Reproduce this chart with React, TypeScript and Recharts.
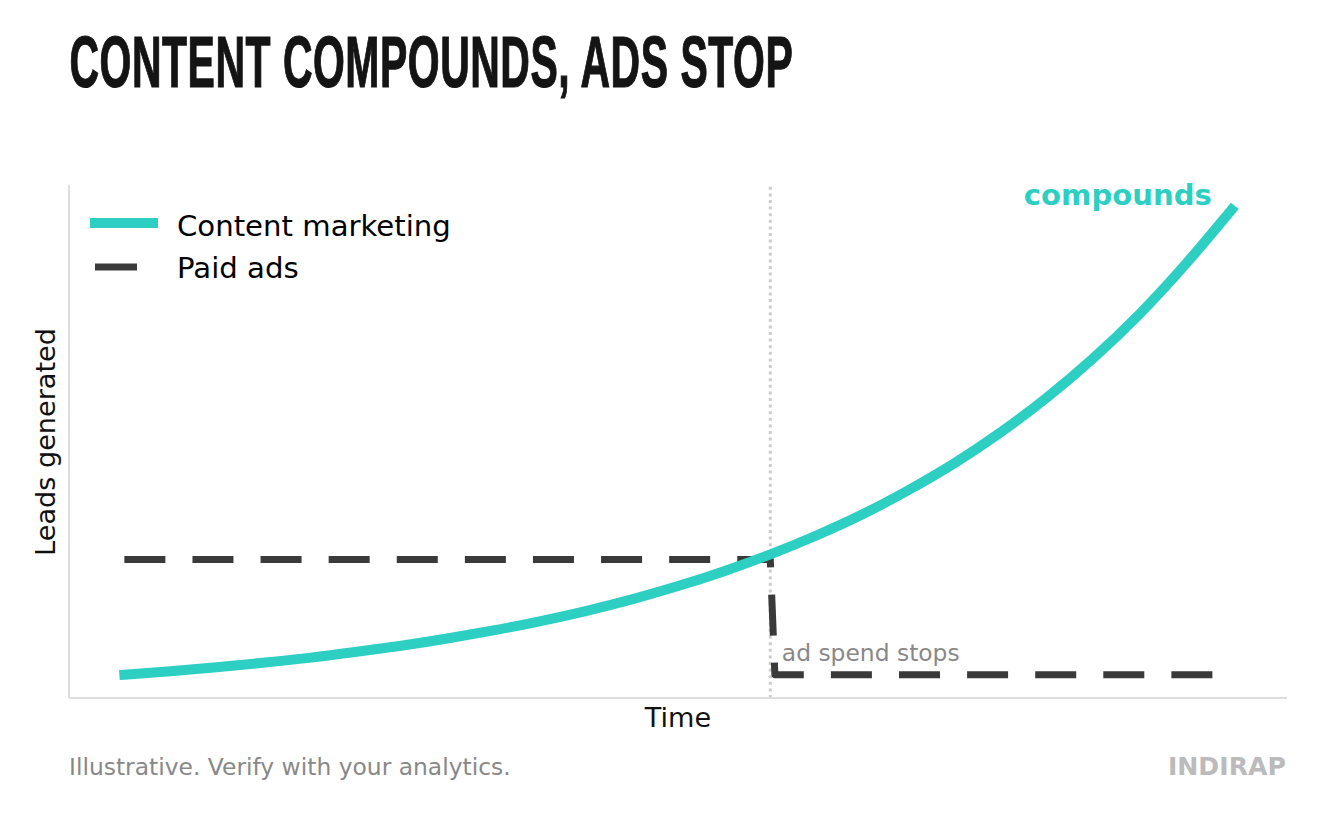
import React from 'react';
import { LineChart, Line, XAxis, YAxis, ReferenceLine, ReferenceDot, Legend } from 'recharts';

const months = [0, 1, 2, 3, 4, 5, 6, 7, 8, 9, 10, 11, 12, 13, 14, 15, 16, 17, 18, 19, 20, 21, 22, 23, 24];
const contentLeads = [10, 10.75, 11.6, 12.55, 13.6, 14.85, 16.2, 17.75, 19.5, 21.45, 23.65, 26.15, 29, 32.2, 35.8, 39.85, 44.4, 49.6, 55.4, 62, 69.45, 77.85, 87.3, 98, 109.7];
const paidMonths = [0, 14, 14.1, 24];
const paidLeads = [34.7, 34.7, 10, 10];

const contentData = months.map((x, i) => ({ x, y: contentLeads[i] }));
const paidData = paidMonths.map((x, i) => ({ x, y: paidLeads[i] }));

const TEAL = '#2dcfc3';
const DARK = '#3a3a3a';
const SANS = '"DejaVu Sans", sans-serif';

function LegendBox({ payload }: any) {
  const items = payload || [];
  return (
    <svg width={400} height={100} style={{ display: 'block', overflow: 'visible' }}>
      {items.map((it: any, i: number) => {
        const teal = i === 0;
        return (
          <g key={it.value}>
            <line x1={95} x2={teal ? 153 : 137} y1={teal ? 38 : 82} y2={teal ? 38 : 82}
              stroke={it.color} strokeWidth={teal ? 10 : 7} strokeLinecap={teal ? 'square' : 'butt'} />
            <text x={177} y={teal ? 51 : 93} fontFamily={SANS} fontSize={29.17} fill="#000">{it.value}</text>
          </g>
        );
      })}
    </svg>
  );
}

export default function App() {
  return (
    <div style={{ position: 'absolute', left: 0, top: 0, width: 1321, height: 814, background: '#fff' }}>
      <LineChart width={1321} height={814} margin={{ left: 68, right: 34, top: 185, bottom: 115 }}>
        <XAxis type="number" dataKey="x" domain={[-1.2, 25.2]} tick={false} tickLine={false} height={1}
          axisLine={{ stroke: '#dddddd', strokeWidth: 2 }} allowDuplicatedCategory={false} />
        <YAxis type="number" domain={[5, 115]} tick={false} tickLine={false} width={1}
          axisLine={{ stroke: '#dddddd', strokeWidth: 2 }} />
        <ReferenceLine x={14} stroke="#cccccc" strokeWidth={3} strokeDasharray="3 3.6" />
        <Line data={paidData} dataKey="y" name="Paid ads" type="linear" stroke={DARK} strokeWidth={7}
          strokeDasharray="41 27.1" strokeLinejoin="round" dot={false} activeDot={false} isAnimationActive={false} legendType="line" />
        <Line data={contentData} dataKey="y" name="Content marketing" type="natural" stroke={TEAL} strokeWidth={10}
          strokeLinecap="square" dot={false} activeDot={false} isAnimationActive={false} legendType="line" />
        <ReferenceDot x={23.57} y={112.9} r={0} stroke="none" fill="none" ifOverflow="visible"
          label={{ value: 'compounds', position: 'left', offset: 0, fill: TEAL, fontFamily: SANS, fontSize: 29.1, fontWeight: 700 }} />
        <ReferenceDot x={14.25} y={14.65} r={0} stroke="none" fill="none" ifOverflow="visible"
          label={{ value: 'ad spend stops', position: 'right', offset: 0, fill: '#888888', fontFamily: SANS, fontSize: 23.4 }} />
        <Legend layout="vertical" align="center" verticalAlign="middle"
          wrapperStyle={{ left: 0, top: 185, width: 400, height: 100 }}
          content={(p: any) => {
            const order = ['Content marketing', 'Paid ads'];
            const sorted = [...(p.payload || [])].sort((a: any, b: any) => order.indexOf(a.value) - order.indexOf(b.value));
            return <LegendBox payload={sorted} />;
          }} />
      </LineChart>
      <svg width={1321} height={814} style={{ position: 'absolute', left: 0, top: 0, pointerEvents: 'none' }}>
        <text transform="translate(69.5,86.5) scale(0.565,1)" fontFamily='"Liberation Sans Narrow", "Liberation Sans", sans-serif' fontWeight={700} fontSize={72.5}
          letterSpacing={0.9} fill="#141414" stroke="#141414" strokeWidth={1.2} strokeLinejoin="miter">CONTENT COMPOUNDS, ADS STOP</text>
        <text x={678} y={727} textAnchor="middle" fontFamily={SANS} fontSize={27.1} fill="#111111">Time</text>
        <text transform="translate(55,442) rotate(-90)" textAnchor="middle" fontFamily={SANS} fontSize={27.1} fill="#111111">Leads generated</text>
        <text x={69} y={775} fontFamily={SANS} fontSize={23.4} fill="#888888">Illustrative. Verify with your analytics.</text>
        <text x={1286} y={775} textAnchor="end" fontFamily={SANS} fontSize={25.2} fontWeight={700} fill="#bbbbbb">INDIRAP</text>
      </svg>
    </div>
  );
}
